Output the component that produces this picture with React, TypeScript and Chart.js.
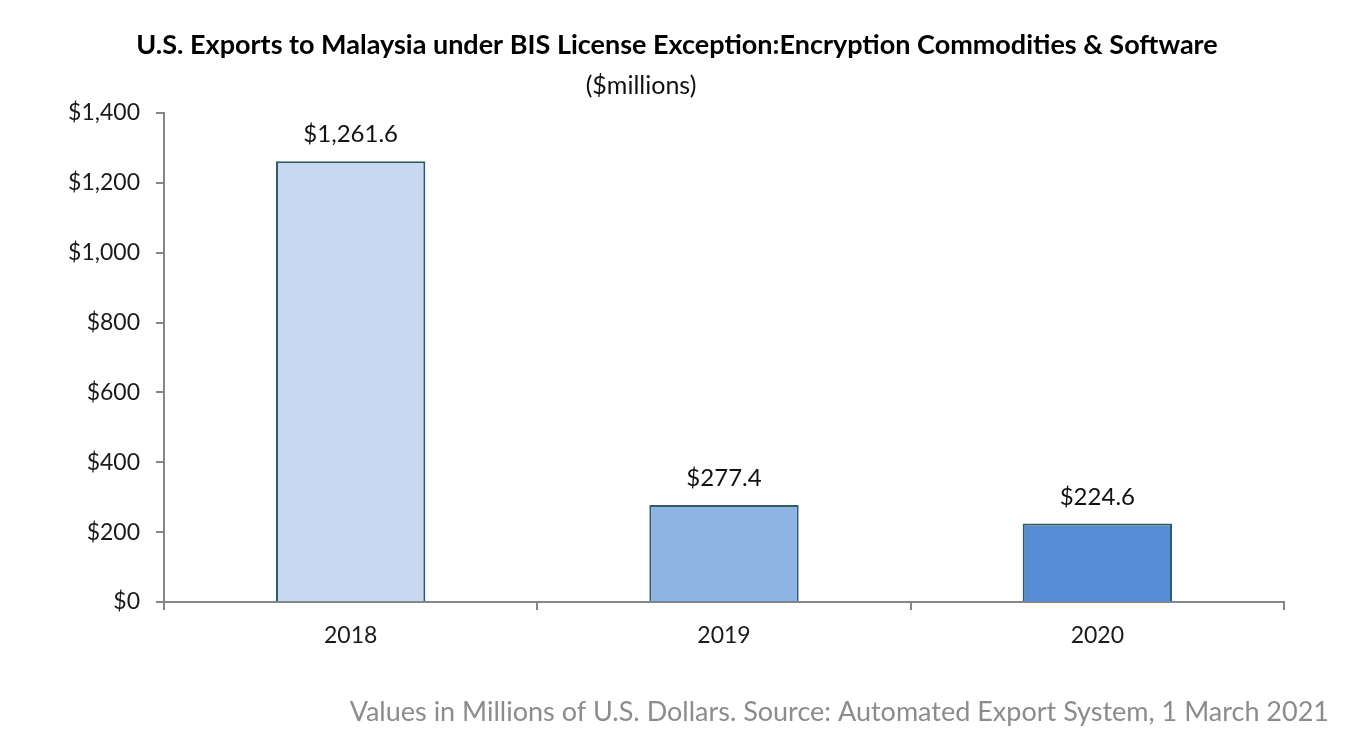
import React, { useEffect, useRef } from "react";
import { Chart, registerables } from "chart.js";

Chart.register(...registerables);

const categories = ["2018", "2019", "2020"];
const values = [1261.6, 277.4, 224.6];
const barColors = ["#C6D9F1", "#8DB3E2", "#558ED5"];
const titleText = "U.S. Exports to Malaysia under BIS License Exception:Encryption Commodities & Software";
const subtitleText = "($millions)";
const footerText = "Values in Millions of U.S. Dollars. Source: Automated Export System, 1 March 2021";

const FONT = "Lato, 'Open Sans', sans-serif";

const fmtMoney = (v: number, dec: number) =>
  "$" + v.toLocaleString("en-US", { minimumFractionDigits: dec, maximumFractionDigits: dec });

const textPlugin = {
  id: "texts",
  afterDraw(chart: any) {
    const ctx = chart.ctx;
    ctx.save();
    ctx.textAlign = "center";
    ctx.textBaseline = "alphabetic";
    ctx.fillStyle = "#000000";
    ctx.font = `bold 27px ${FONT}`;
    ctx.fillText(titleText, 677, 54);
    ctx.font = `25px ${FONT}`;
    ctx.fillStyle = "#111111";
    ctx.fillText(subtitleText, 641, 94);
    // bar value labels
    const meta = chart.getDatasetMeta(0);
    ctx.font = `24px ${FONT}`;
    meta.data.forEach((bar: any, i: number) => {
      ctx.fillText(fmtMoney(values[i], 1), bar.x, bar.y - 19);
    });
    // footer
    ctx.textAlign = "right";
    ctx.fillStyle = "#8C8C8C";
    ctx.font = `27px ${FONT}`;
    ctx.fillText(footerText, 1329, 721);
    ctx.restore();
  },
};

export default function App() {
  const ref = useRef<HTMLCanvasElement>(null);
  useEffect(() => {
    document.body.style.margin = "0";
    const chart = new Chart(ref.current!, {
      type: "bar",
      data: {
        labels: categories,
        datasets: [
          {
            data: values,
            backgroundColor: barColors,
            borderColor: "#2A5E6E",
            borderWidth: 2,
            borderSkipped: "bottom",
            barPercentage: 0.8,
            categoryPercentage: 0.5,
          },
        ],
      },
      options: {
        responsive: false,
        animation: false,
        layout: { padding: { top: 113, right: 65, left: 0, bottom: 0 } },
        plugins: {
          legend: { display: false },
          title: { display: false },
          tooltip: { enabled: false },
        },
        scales: {
          x: {
            grid: {
              offset: true,
              drawOnChartArea: false,
              drawTicks: true,
              tickLength: 8,
              color: "#868686",
              lineWidth: 2,
            },
            border: { display: true, color: "#868686", width: 2 },
            ticks: {
              color: "#1a1a1a",
              font: { family: FONT, size: 23 },
              padding: 12,
            },
            afterFit(scale: any) {
              scale.height = 136;
            },
          },
          y: {
            min: 0,
            max: 1400,
            grid: {
              drawOnChartArea: false,
              drawTicks: true,
              tickLength: 8,
              color: "#868686",
              lineWidth: 2,
            },
            border: { display: true, color: "#868686", width: 2 },
            ticks: {
              stepSize: 200,
              color: "#1a1a1a",
              font: { family: FONT, size: 23 },
              padding: 16,
              callback: (v: any) => fmtMoney(Number(v), 0),
            },
            afterFit(scale: any) {
              scale.width = 164;
            },
          },
        },
      },
      plugins: [textPlugin],
    });
    return () => chart.destroy();
  }, []);
  return (
    <div style={{ width: 1349, height: 738, background: "#ffffff" }}>
      <canvas ref={ref} width={1349} height={738} style={{ display: "block" }} />
    </div>
  );
}
